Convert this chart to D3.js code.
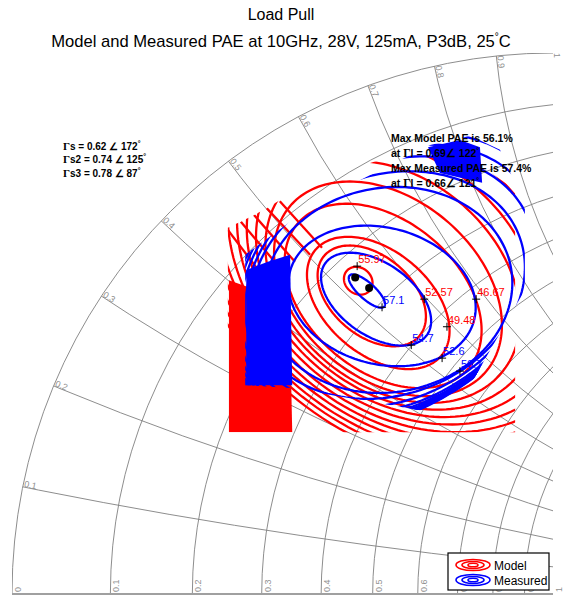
<!DOCTYPE html>
<html>
<head>
<meta charset="utf-8">
<script src="https://cdn.jsdelivr.net/npm/d3@7"></script>
<style>
body { margin: 0; background: #fff; }
svg { display: block; font-family: Arial, "Liberation Sans", sans-serif; }
</style>
</head>
<body>
<div id="chart"></div>
<script>
// Smith chart grid
const rValues = [0.1, 0.2, 0.3, 0.4, 0.5, 0.6, 0.7, 0.8, 0.9];
const xValues = [0.1, 0.2, 0.3, 0.4, 0.5, 0.6, 0.7, 0.8, 0.9];
const rLabels = ["0", "0.1", "0.2", "0.3", "0.4", "0.5", "0.6", "0.7", "0.8", "0.9", "1"];
const xLabels = ["0.1", "0.2", "0.3", "0.4", "0.5", "0.6", "0.7", "0.8", "0.9", "1"];

// model PAE contours, read as ellipses in the gamma plane:
// centre (re, im), half axes a/b, tilt of the long axis in degrees
const modelRe   = [-0.360, -0.335, -0.323, -0.314, -0.305, -0.296, -0.287, -0.277, -0.268, -0.259, -0.250, -0.240, -0.231, -0.222, -0.213];
const modelIm   = [0.579, 0.551, 0.538, 0.551, 0.564, 0.577, 0.590, 0.603, 0.616, 0.628, 0.641, 0.654, 0.667, 0.680, 0.693];
const modelA    = [0.028, 0.115, 0.152, 0.207, 0.237, 0.262, 0.290, 0.318, 0.346, 0.373, 0.403, 0.433, 0.462, 0.492, 0.521];
const modelB    = [0.024, 0.074, 0.096, 0.139, 0.166, 0.192, 0.216, 0.242, 0.268, 0.294, 0.320, 0.346, 0.372, 0.397, 0.423];
const modelTilt = [-40, -40, -40, -40, -40, -40, -40, -40, -40, -40, -40, -40, -40, -40, -40];

// model contour pieces running in from the upper left edge of the data
const modelEdgeFrom = [[-0.601, 0.673], [-0.577, 0.688], [-0.553, 0.701], [-0.529, 0.713], [-0.505, 0.726]];
const modelEdgeTo   = [[-0.538, 0.590], [-0.505, 0.603], [-0.477, 0.614], [-0.449, 0.627], [-0.427, 0.640]];

// measured PAE contours
const measRe   = [-0.344, -0.327, -0.316, -0.305, -0.305, -0.301, -0.298, -0.296, -0.294, -0.292, -0.290, -0.288, -0.286, -0.284, -0.282];
const measIm   = [0.560, 0.545, 0.551, 0.562, 0.571, 0.577, 0.582, 0.588, 0.593, 0.599, 0.604, 0.610, 0.615, 0.620, 0.625];
const measA    = [0.043, 0.115, 0.176, 0.231, 0.259, 0.281, 0.299, 0.314, 0.327, 0.338, 0.348, 0.357, 0.366, 0.374, 0.381];
const measB    = [0.015, 0.067, 0.126, 0.189, 0.203, 0.216, 0.226, 0.233, 0.238, 0.242, 0.246, 0.250, 0.254, 0.257, 0.260];
const measTilt = [-42, -35, -15, 10, 20, 28, 32, 35, 37, 38, 39, 40, 40, 41, 42];

// extent of each data set, and the zones where contours pile up
const modelRegion = [[-0.601, 0.299], [-0.601, 0.677], [-0.553, 0.700], [-0.505, 0.728], [-0.412, 0.774],
                     [-0.320, 0.802], [-0.227, 0.811], [-0.135, 0.793], [-0.070, 0.747], [-0.070, 0.299]];
const measRegion = [[-0.569, 0.386], [-0.569, 0.627], [-0.468, 0.701], [-0.357, 0.765], [-0.227, 0.830],
                    [-0.153, 0.847], [-0.098, 0.821], [-0.052, 0.719], [-0.052, 0.562], [-0.116, 0.451],
                    [-0.153, 0.386], [-0.194, 0.331], [-0.486, 0.381]];
const modelDense = [[-0.599, 0.580], [-0.560, 0.566], [-0.514, 0.534], [-0.486, 0.488], [-0.482, 0.299], [-0.599, 0.299]];
const measDense = [[-0.567, 0.599], [-0.527, 0.614], [-0.486, 0.627], [-0.482, 0.386], [-0.567, 0.386]];
const measDenseTop = [[-0.231, 0.826], [-0.172, 0.839], [-0.135, 0.826], [-0.131, 0.760], [-0.209, 0.778]];

// contour labels
const modelLabels = ["55.97", "52.57", "49.48", "46.67"];
const modelLabelPts = [[-0.362, 0.606], [-0.238, 0.545], [-0.196, 0.494], [-0.142, 0.545]];
const measLabels = ["57.1", "54.7", "52.6", "50.7"];
const measLabelPts = [[-0.316, 0.530], [-0.262, 0.460], [-0.205, 0.436], [-0.172, 0.412]];

// optimum points: magnitude and angle
const maxMag = [0.69, 0.66];
const maxAng = [122, 121];

const width = 563, height = 597;
const svg = d3.select("#chart").append("svg")
    .attr("width", width).attr("height", height);

const x = d3.scaleLinear().domain([-1, 0]).range([12, 553]);
const y = d3.scaleLinear().domain([0, 1]).range([594, 53]);
const R = x(0) - x(-1);
const gridColor = "#808080";

const defs = svg.append("defs");
defs.append("clipPath").attr("id", "quad").append("rect")
    .attr("x", x(-1)).attr("y", y(1)).attr("width", R).attr("height", R);
defs.append("clipPath").attr("id", "unit").append("circle")
    .attr("cx", x(0)).attr("cy", y(0)).attr("r", R);

// grid
const grid = svg.append("g").attr("clip-path", "url(#quad)")
    .append("g").attr("clip-path", "url(#unit)");

grid.selectAll("circle.r").data(rValues).enter().append("circle")
    .attr("class", "r")
    .attr("cx", d => x(d / (1 + d)))
    .attr("cy", y(0))
    .attr("r", d => R / (1 + d))
    .attr("fill", "none").attr("stroke", gridColor).attr("stroke-width", 0.9);

grid.selectAll("circle.x").data(xValues).enter().append("circle")
    .attr("class", "x")
    .attr("cx", x(1))
    .attr("cy", d => y(1 / d))
    .attr("r", d => R / d)
    .attr("fill", "none").attr("stroke", gridColor).attr("stroke-width", 0.9);

svg.append("g").attr("clip-path", "url(#quad)").append("circle")
    .attr("cx", x(0)).attr("cy", y(0)).attr("r", R)
    .attr("fill", "none").attr("stroke", gridColor).attr("stroke-width", 0.9);

svg.append("line")
    .attr("x1", x(-1)).attr("x2", x(0)).attr("y1", y(0)).attr("y2", y(0))
    .attr("stroke", "#a0a0a0").attr("stroke-width", 2);

// resistance labels along the real axis
svg.selectAll("text.rl").data(rLabels).enter().append("text")
    .attr("class", "rl")
    .attr("transform", d => {
        const r = +d;
        return `translate(${x((r - 1) / (r + 1)) + 9},${y(0) - 2}) rotate(-90)`;
    })
    .attr("font-size", 9).attr("fill", "#909090")
    .text(d => d);

// reactance labels on the outer circle
svg.selectAll("text.xl").data(xLabels).enter().append("text")
    .attr("class", "xl")
    .attr("transform", d => {
        const ang = Math.PI - 2 * Math.atan(+d);
        const px = x(Math.cos(ang)), py = y(Math.sin(ang));
        return `translate(${px + 1},${py}) rotate(${180 - ang * 180 / Math.PI})`;
    })
    .attr("font-size", 9).attr("fill", "#909090")
    .text(d => d);

// contours
function ellipsePts(cre, cim, a, b, tiltDeg) {
    const t = tiltDeg * Math.PI / 180;
    return d3.range(0, 360, 2).map(deg => {
        const u = Math.cos(deg * Math.PI / 180) * a;
        const v = Math.sin(deg * Math.PI / 180) * b;
        return [cre + u * Math.cos(t) - v * Math.sin(t), cim + u * Math.sin(t) + v * Math.cos(t)];
    });
}
const line = d3.line().x(d => x(d[0])).y(d => y(d[1])).curve(d3.curveLinearClosed);
const openLine = d3.line().x(d => x(d[0])).y(d => y(d[1]));

defs.append("clipPath").attr("id", "modelClip").append("path").attr("d", line(modelRegion));
defs.append("clipPath").attr("id", "measClip").append("path").attr("d", line(measRegion));

const modelG = svg.append("g").attr("clip-path", "url(#modelClip)");
modelG.selectAll("path.c").data(modelRe).enter().append("path")
    .attr("class", "c")
    .attr("d", (d, i) => line(ellipsePts(modelRe[i], modelIm[i], modelA[i], modelB[i], modelTilt[i])))
    .attr("fill", "none").attr("stroke", "#ff0000").attr("stroke-width", 2.3);
modelG.selectAll("path.e").data(modelEdgeFrom).enter().append("path")
    .attr("class", "e")
    .attr("d", (d, i) => openLine([d, modelEdgeTo[i]]))
    .attr("fill", "none").attr("stroke", "#ff0000").attr("stroke-width", 2.3);
modelG.append("path").attr("d", line(modelDense)).attr("fill", "#ff0000");

const measG = svg.append("g").attr("clip-path", "url(#measClip)");
measG.selectAll("path.c").data(measRe).enter().append("path")
    .attr("class", "c")
    .attr("d", (d, i) => line(ellipsePts(measRe[i], measIm[i], measA[i], measB[i], measTilt[i])))
    .attr("fill", "none").attr("stroke", "#0000ff").attr("stroke-width", 2.3);
measG.append("path").attr("d", line(measDense)).attr("fill", "#0000ff");
measG.append("path").attr("d", line(measDenseTop)).attr("fill", "#0000ff");

// optimum dots
svg.selectAll("circle.max").data(maxMag).enter().append("circle")
    .attr("cx", (d, i) => x(d * Math.cos(maxAng[i] * Math.PI / 180)))
    .attr("cy", (d, i) => y(d * Math.sin(maxAng[i] * Math.PI / 180)))
    .attr("r", 4).attr("fill", "#000");

// label markers and values
function drawLabels(pts, labels, color) {
    const g = svg.append("g");
    pts.forEach((p, i) => {
        const px = x(p[0]), py = y(p[1]);
        g.append("path").attr("d", `M${px - 4},${py}H${px + 4}M${px},${py - 4}V${py + 4}`)
            .attr("stroke", "#000").attr("stroke-width", 1);
        g.append("text").attr("x", px + 1).attr("y", py - 3)
            .attr("font-size", 11).attr("fill", color).text(labels[i]);
    });
}
drawLabels(modelLabelPts, modelLabels, "#ff0000");
drawLabels(measLabelPts, measLabels, "#0000ff");

// notes
const notes = svg.append("g").attr("font-size", 10).attr("font-weight", "bold");
const srcLines = [["s = 0.62 ∠ 172", 150], ["s2 = 0.74 ∠ 125", 163], ["s3 = 0.78 ∠ 87", 177]];
srcLines.forEach(s => {
    const t = notes.append("text").attr("x", 63).attr("y", s[1]);
    t.append("tspan").attr("font-family", "'Liberation Serif', 'DejaVu Serif', serif").attr("font-size", 11).text("Γ");
    t.append("tspan").text(s[0]);
    t.append("tspan").attr("dy", -4).attr("font-size", 7).text("°");
});
const maxLines = [["Max Model PAE is 56.1%", 142, ""], ["at ", 157, "l = 0.69∠ 122"],
                  ["Max Measured PAE is 57.4%", 172, ""], ["at ", 187, "l = 0.66∠ 121"]];
maxLines.forEach(s => {
    const t = notes.append("text").attr("x", 391).attr("y", s[1]).attr("font-size", 10.5).text(s[0]);
    if (s[2]) {
        t.append("tspan").attr("font-family", "'Liberation Serif', 'DejaVu Serif', serif").attr("font-size", 11.5).text("Γ");
        t.append("tspan").text(s[2]);
        t.append("tspan").attr("dy", -4).attr("font-size", 7).text("°");
    }
});

// title
svg.append("text").attr("x", 281).attr("y", 20).attr("text-anchor", "middle")
    .attr("font-size", 16).text("Load Pull");
const sub = svg.append("text").attr("x", 281).attr("y", 47).attr("text-anchor", "middle")
    .attr("font-size", 16.6).text("Model and Measured PAE at 10GHz, 28V, 125mA, P3dB, 25");
sub.append("tspan").attr("dy", -7).attr("font-size", 10).text("°");
sub.append("tspan").attr("dy", 7).text("C");

// legend
const leg = svg.append("g").attr("transform", "translate(448,553)");
leg.append("rect").attr("width", 101).attr("height", 37)
    .attr("fill", "#fff").attr("stroke", "#000").attr("stroke-width", 1.2);
[["Model", "#ff0000"], ["Measured", "#0000ff"]].forEach((e, i) => {
    const cy = 12 + i * 15;
    [[17, 5.5], [11, 3.5], [5, 1.8]].forEach(s => {
        leg.append("ellipse").attr("cx", 25).attr("cy", cy).attr("rx", s[0]).attr("ry", s[1])
            .attr("fill", "none").attr("stroke", e[1]).attr("stroke-width", 1.6);
    });
    leg.append("text").attr("x", 46).attr("y", cy + 5).attr("font-size", 12).text(e[0]);
});
</script>
</body>
</html>
